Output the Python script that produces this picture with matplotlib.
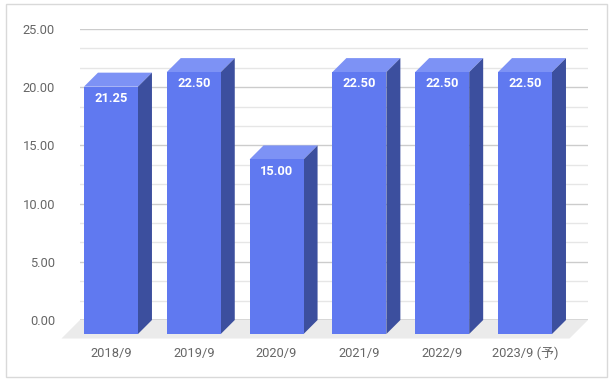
"""3D-style bar chart (Google Charts look): dividend per year."""

import matplotlib
matplotlib.use("Agg")
import matplotlib.pyplot as plt
from matplotlib.patches import Polygon, Rectangle
import numpy as np

categories = ["2018/9", "2019/9", "2020/9", "2021/9", "2022/9", "2023/9 (予)"]
values = [21.25, 22.50, 15.00, 22.50, 22.50, 22.50]
y_ticks = [0, 5, 10, 15, 20, 25]

FRONT = "#6079f0"
SIDE = "#3c4f9e"
TOP = "#7d92f5"
FLOOR = "#ebebeb"

plt.rcParams["font.family"] = ["Roboto", "Noto Sans CJK JP", "DejaVu Sans"]

W, H = 613, 382
fig = plt.figure(figsize=(W / 100, H / 100), dpi=100)

# back wall of the plot area, in pixels
ax_left, ax_bottom, ax_w, ax_h = 80, 62, 508, 291
ax = fig.add_axes([ax_left / W, ax_bottom / H, ax_w / W, ax_h / H])

xmin, xmax = -0.543, 5.592
ymin, ymax = 0, 25
ax.set_xlim(xmin, xmax)
ax.set_ylim(ymin, ymax)

px_x = ax_w / (xmax - xmin)     # pixels per x unit
px_y = ax_h / (ymax - ymin)     # pixels per y unit
DX, DY = 14 / px_x, 14 / px_y   # bar depth
FX, FY = 18.5 / px_x, 18.5 / px_y  # floor depth
bar_w = 54 / px_x

# gridlines on the back wall
for v in np.arange(0, 25.01, 5 / 3):
    major = abs(v / 5 - round(v / 5)) < 1e-6
    if abs(v) < 1e-6:
        continue
    ax.axhline(v, color="#cccccc" if major else "#e6e6e6", lw=1, zorder=1)

# floor
ax.add_patch(Polygon([(xmin, 0), (xmax, 0), (xmax - FX, -FY), (xmin - FX, -FY)],
                     closed=True, facecolor=FLOOR, edgecolor="none",
                     clip_on=False, zorder=0.5))
ax.axhline(0, color="#333333", lw=1, zorder=2)

x = np.arange(len(values))
for xi, v in zip(x, values):
    fl = xi - bar_w / 2 - DX   # front-face left
    fr = xi + bar_w / 2 - DX   # front-face right
    # top face
    ax.add_patch(Polygon([(fl, v - DY), (fr, v - DY), (fr + DX, v), (fl + DX, v)],
                         closed=True, facecolor=TOP, edgecolor="none",
                         clip_on=False, zorder=3))
    # side face
    ax.add_patch(Polygon([(fr, v - DY), (fr + DX, v), (fr + DX, 0), (fr, -DY)],
                         closed=True, facecolor=SIDE, edgecolor="none",
                         clip_on=False, zorder=3))
    # front face
    ax.add_patch(Rectangle((fl, -DY), bar_w, v, facecolor=FRONT,
                           edgecolor="none", clip_on=False, zorder=4))
    ax.annotate(f"{v:.2f}", xy=(xi - DX, v - DY), xytext=(0, -8.5),
                textcoords="offset points", ha="center", va="center",
                color="white", fontsize=9.3, fontweight="bold", zorder=5)

ax.set_yticks(y_ticks)
ax.set_yticklabels([f"{t:.2f}" for t in y_ticks])
ax.set_xticks(x - DX)
ax.set_xticklabels(categories)
ax.tick_params(axis="y", length=0, pad=18, labelsize=9.3, labelcolor="#666666")
ax.tick_params(axis="x", length=0, pad=19.5, labelsize=9.3, labelcolor="#666666")
for s in ax.spines.values():
    s.set_visible(False)

# outer border
fig.patches.append(Rectangle((6 / W, 5 / H), 601 / W, 373 / H,
                             transform=fig.transFigure, facecolor="none",
                             edgecolor="#d9d9d9", lw=1))

fig.savefig("out.png", dpi=100)
